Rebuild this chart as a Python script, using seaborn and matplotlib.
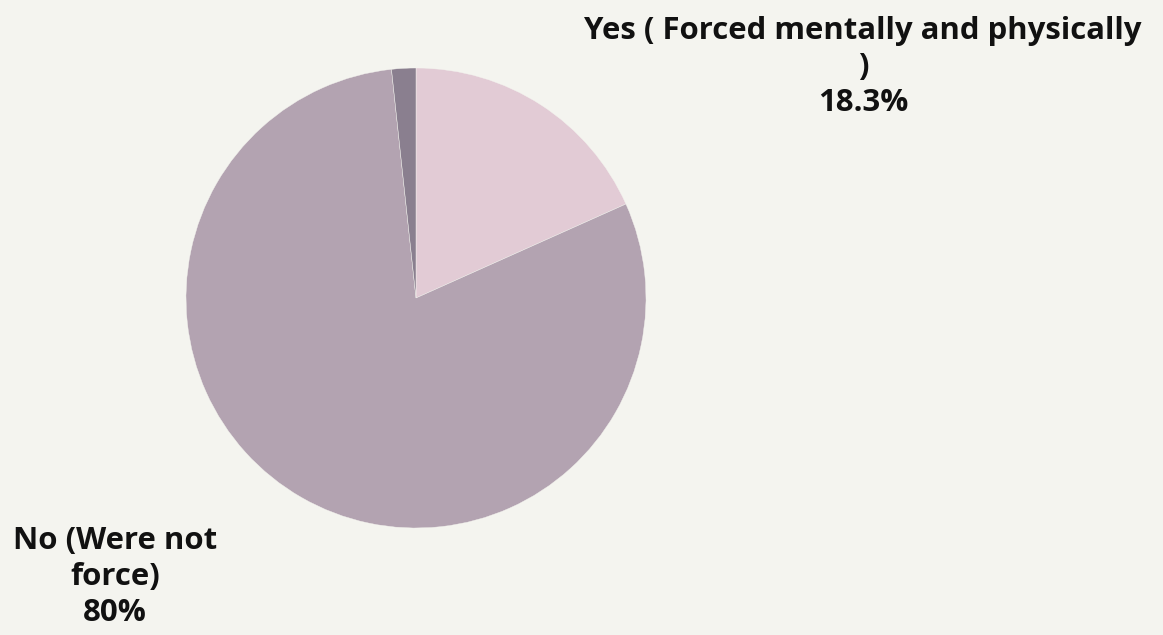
import matplotlib
matplotlib.use("Agg")
import matplotlib.pyplot as plt
import seaborn as sns

# Survey answers and their shares (%)
categories = ["Yes ( Forced mentally and physically )", "No (Were not force)", "Other"]
shares = [18.3, 80.0, 1.7]
label_texts = ["Yes ( Forced mentally and physically\n)\n18.3%", "No (Were not\nforce)\n80%", None]

bg = "#f4f4ef"
palette = sns.color_palette(["#e2cbd5", "#b3a3b1", "#8a7f8f"])

sns.set_theme(style="white")
plt.rcParams["font.family"] = ["Open Sans", "DejaVu Sans"]

W, H = 1163, 635
fig = plt.figure(figsize=(W / 100, H / 100), dpi=100, facecolor=bg)
ax = fig.add_axes([186 / W, 107 / H, 460 / W, 460 / H])
ax.set_facecolor(bg)

ax.pie(shares, colors=palette, startangle=90, counterclock=False, radius=1,
       wedgeprops=dict(edgecolor=bg, linewidth=0.3))
ax.set_xlim(-1, 1)
ax.set_ylim(-1, 1)
ax.set_aspect("equal")
ax.axis("off")

# Outside labels
label_pos = [(863 / W, 1 - 67 / H), (115 / W, 1 - 577 / H)]
for txt, (x, y) in zip(label_texts, label_pos):
    if txt is None:
        continue
    fig.text(x, y, txt, ha="center", va="center", fontsize=22.4, fontweight="bold",
             color="#111111", linespacing=1.28)

fig.savefig("out.png", dpi=100, facecolor=bg)
